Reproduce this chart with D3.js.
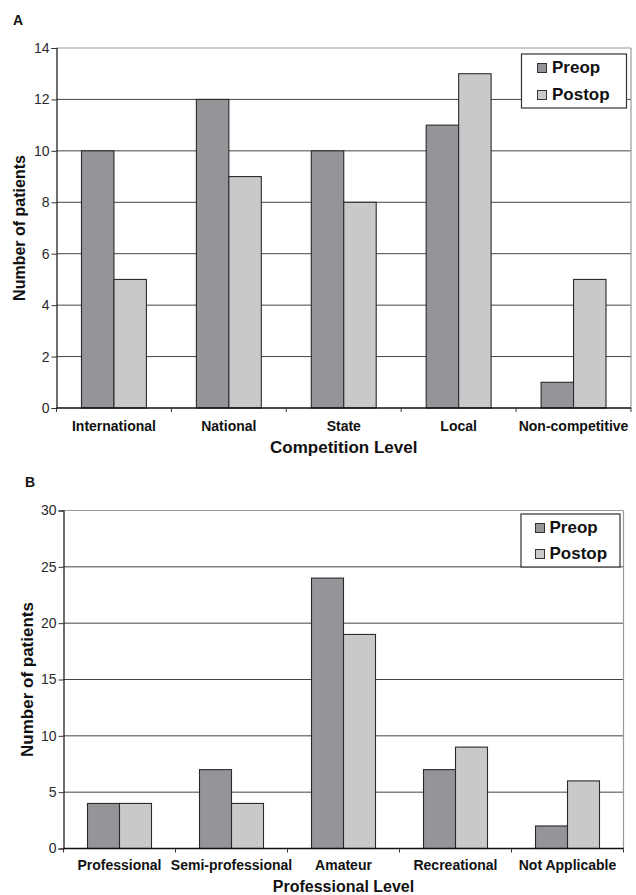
<!DOCTYPE html>
<html>
<head>
<meta charset="utf-8">
<script src="https://cdn.jsdelivr.net/npm/d3@7"></script>
<style>
  html, body { margin: 0; padding: 0; background: #fff; }
  svg { display: block; font-family: "Liberation Sans", Arial, sans-serif; }
</style>
</head>
<body>
<svg id="chart" width="636" height="895"></svg>
<script>
// ---- Data ----
const series = ["Preop", "Postop"];

const competitionLevels = ["International", "National", "State", "Local", "Non-competitive"];
const competitionPreop  = [10, 12, 10, 11, 1];
const competitionPostop = [5, 9, 8, 13, 5];
const competitionTicks  = [0, 2, 4, 6, 8, 10, 12, 14];

const professionalLevels = ["Professional", "Semi-professional", "Amateur", "Recreational", "Not Applicable"];
const professionalPreop  = [4, 7, 24, 7, 2];
const professionalPostop = [4, 4, 19, 9, 6];
const professionalTicks  = [0, 5, 10, 15, 20, 25, 30];

const colors = { Preop: "#939598", Postop: "#c8c9cb" };

const svg = d3.select("#chart");

function panel(opt) {
  const g = svg.append("g");
  const x0 = d3.scaleBand().domain(opt.categories).range([opt.left, opt.right]).padding(0);
  const x1 = d3.scaleBand().domain(series).range([0, x0.bandwidth()]).paddingInner(0).paddingOuter(opt.outer);
  const y = d3.scaleLinear().domain([0, opt.max]).range([opt.bottom, opt.top]);

  // panel letter
  g.append("text").attr("x", opt.letterX).attr("y", opt.letterY)
    .attr("font-size", 14).attr("font-weight", "bold").attr("fill", "#111").text(opt.letter);

  // gridlines
  g.selectAll("line.grid").data(opt.ticks.filter(t => t > 0 && t < opt.max)).join("line")
    .attr("x1", opt.left).attr("x2", opt.right)
    .attr("y1", d => y(d)).attr("y2", d => y(d))
    .attr("stroke", "#444").attr("stroke-width", 1);

  // top and right border
  g.append("line").attr("x1", opt.left).attr("x2", opt.right)
    .attr("y1", y(opt.max)).attr("y2", y(opt.max)).attr("stroke", "#9a9a9a").attr("stroke-width", 1.2);
  g.append("line").attr("x1", opt.right).attr("x2", opt.right)
    .attr("y1", y(opt.max)).attr("y2", y(0)).attr("stroke", "#9a9a9a").attr("stroke-width", 1.2);

  // bars
  const rows = opt.categories.map((c, i) => ({ cat: c, Preop: opt.preop[i], Postop: opt.postop[i] }));
  const grp = g.selectAll("g.cat").data(rows).join("g")
    .attr("transform", d => `translate(${x0(d.cat)},0)`);
  grp.selectAll("rect").data(d => series.map(s => ({ s, v: d[s] }))).join("rect")
    .attr("x", d => x1(d.s)).attr("width", x1.bandwidth())
    .attr("y", d => y(d.v)).attr("height", d => y(0) - y(d.v))
    .attr("fill", d => colors[d.s]).attr("stroke", "#2a2a2a").attr("stroke-width", 1.1);

  // y axis
  const yAxis = d3.axisLeft(y).tickValues(opt.ticks).tickSize(5).tickPadding(2);
  const ya = g.append("g").attr("transform", `translate(${opt.left},0)`).call(yAxis);
  ya.select(".domain").attr("stroke", "#111").attr("stroke-width", 1.2);
  ya.selectAll(".tick line").attr("stroke", "#333");
  ya.selectAll(".tick text").attr("font-size", 14).attr("fill", "#2a2a2a")
    .attr("font-family", "'Liberation Sans', Arial, sans-serif");

  // x axis line + boundary ticks
  g.append("line").attr("x1", opt.left).attr("x2", opt.right)
    .attr("y1", y(0)).attr("y2", y(0)).attr("stroke", "#111").attr("stroke-width", 1.5);
  const bounds = opt.categories.map(c => x0(c)).concat([opt.right]);
  g.selectAll("line.xt").data(bounds).join("line")
    .attr("x1", d => d).attr("x2", d => d)
    .attr("y1", y(0)).attr("y2", y(0) + 4).attr("stroke", "#333");

  // category labels
  g.selectAll("text.cat").data(opt.categories).join("text")
    .attr("x", d => x0(d) + x0.bandwidth() / 2).attr("y", opt.catY)
    .attr("text-anchor", "middle").attr("font-size", 14).attr("font-weight", "bold")
    .attr("fill", "#111").text(d => d);

  // x title
  g.append("text").attr("x", (opt.left + opt.right) / 2).attr("y", opt.xTitleY)
    .attr("text-anchor", "middle").attr("font-size", opt.xTitleSize).attr("font-weight", "bold")
    .attr("fill", "#111").text(opt.xTitle);

  // y title
  g.append("text")
    .attr("transform", `translate(${opt.yTitleX},${(opt.top + opt.bottom) / 2}) rotate(-90)`)
    .attr("text-anchor", "middle").attr("font-size", opt.yTitleSize).attr("font-weight", "bold")
    .attr("fill", "#111").text("Number of patients");

  // legend
  const L = opt.legend;
  g.append("rect").attr("x", L.x).attr("y", L.y).attr("width", L.w).attr("height", L.h)
    .attr("fill", "#fff").attr("stroke", "#333").attr("stroke-width", 1.2);
  series.forEach((s, i) => {
    const by = L.y + L.row0 + i * L.rowGap;
    g.append("rect").attr("x", L.x + L.sq).attr("y", by - 9.5).attr("width", 9).attr("height", 9)
      .attr("fill", colors[s]).attr("stroke", "#333").attr("stroke-width", 1);
    g.append("text").attr("x", L.x + L.tx).attr("y", by)
      .attr("font-size", 17).attr("font-weight", "bold").attr("fill", "#111").text(s);
  });
}

panel({
  letter: "A", letterX: 13, letterY: 25,
  categories: competitionLevels, preop: competitionPreop, postop: competitionPostop,
  ticks: competitionTicks, max: 14,
  left: 56.5, right: 631, top: 48, bottom: 408, outer: 0.77,
  catY: 430.5, xTitle: "Competition Level", xTitleY: 453, xTitleSize: 17,
  yTitleX: 24.5, yTitleSize: 16,
  legend: { x: 521.5, y: 54, w: 105, h: 54, sq: 16, tx: 30.5, row0: 19, rowGap: 27 }
});

panel({
  letter: "B", letterX: 25, letterY: 487,
  categories: professionalLevels, preop: professionalPreop, postop: professionalPostop,
  ticks: professionalTicks, max: 30,
  left: 63.5, right: 623.5, top: 510.5, bottom: 848.5, outer: 0.75,
  catY: 869.5, xTitle: "Professional Level", xTitleY: 892, xTitleSize: 16,
  yTitleX: 33, yTitleSize: 17,
  legend: { x: 521, y: 514, w: 99, h: 53, sq: 14.5, tx: 28.5, row0: 19, rowGap: 26 }
});
</script>
</body>
</html>
